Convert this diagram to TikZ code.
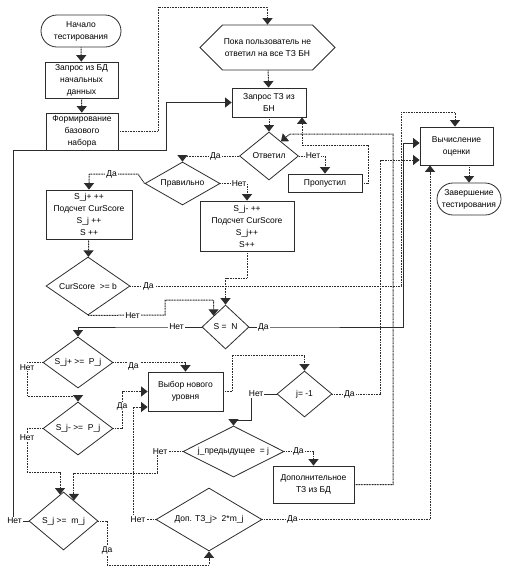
\documentclass[tikz,border=0pt]{standalone}
\usepackage{fontspec}
\setmainfont{Liberation Sans}
\usetikzlibrary{shapes.geometric,shapes.misc,shapes.symbols,arrows.meta,calc}
\definecolor{lnc}{HTML}{2C2C2C}
\begin{document}
\begin{tikzpicture}[x=1pt,y=-1pt,>={Triangle[width=10pt,length=6.5pt]},
		font=\fontsize{8.5}{12}\selectfont,
		block/.style={rectangle,draw=lnc,line width=0.8pt,align=center,inner sep=1pt},
		term/.style={rounded rectangle,draw=lnc,line width=0.8pt,align=center,inner sep=1pt},
		decision/.style={diamond,draw=lnc,line width=0.8pt,aspect=1.6,inner sep=0pt,align=center},
		cyclebox/.style={signal,signal to=west and east,signal pointer angle=90,draw=lnc,line width=0.8pt,align=center,inner sep=1pt},
		link/.style={draw=lnc,line width=1pt,dash pattern=on 1pt off 0.6pt},
		slink/.style={draw=lnc,line width=0.7pt},
		lbl/.style={fill=white,inner sep=1pt}]
			\useasboundingbox (0,0) rectangle (510,571);
			%Start and the initial data
			\node[term,minimum width=82pt,minimum height=32pt] (start) at (81,31) {Начало\\тестирования};
			\node[block,minimum width=73pt,minimum height=36pt] (zbd) at (81.5,80) {Запрос из БД\\начальных\\данных};
			\node[block,minimum width=72pt,minimum height=37pt] (form) at (82,131.5) {Формирование\\базового\\набора};
			%Main loop
			\node[cyclebox,minimum width=135pt,minimum height=45pt] (hex) at (267.5,47.5) {Пока пользователь не\\ответил на все ТЗ БН};
			\node[block,minimum width=74pt,minimum height=29pt] (zapr) at (269,102.5) {Запрос ТЗ из\\БН};
			\node[decision,minimum width=59pt,minimum height=48pt] (otv) at (269,156) {Ответил};
			\node[block,minimum width=74pt,minimum height=18pt] (prop) at (325,183) {Пропустил};
			\node[decision,minimum width=75pt,minimum height=43pt] (prav) at (182.5,183.5) {Правильно};
			%Counters
			\node[block,minimum width=86pt,minimum height=49pt] (plus) at (89,214.5) {S\_j+ ++\\Подсчет CurScore\\S\_j ++\\S ++};
			\node[block,minimum width=94pt,minimum height=50pt] (minus) at (247,226) {S\_j- ++\\Подсчет CurScore\\S\_j++\\S++};
			\node[decision,minimum width=84pt,minimum height=58pt] (cur) at (88,286) {CurScore\ \ >= b};
			\node[decision,minimum width=47pt,minimum height=44pt] (sn) at (225.5,327) {S =\ \ N};
			%Choice of the level
			\node[decision,minimum width=70pt,minimum height=51pt] (sjp) at (78,362.5) {S\_j+ >=\ \ P\_j};
			\node[decision,minimum width=70pt,minimum height=53pt] (sjm) at (78,428.5) {S\_j- >=\ \ P\_j};
			\node[block,minimum width=75pt,minimum height=39pt] (vyb) at (185.5,391.5) {Выбор нового\\уровня};
			\node[decision,minimum width=55pt,minimum height=46pt] (jm1) at (304.5,394) {j= -1};
			\node[decision,aspect=2,minimum width=101pt,minimum height=51pt] (jpr) at (233.5,451.5) {j\_предыдущее\ \ = j};
			\node[block,minimum width=81pt,minimum height=37pt] (dop) at (313.5,484.5) {Дополнительное\\ТЗ из БД};
			\node[decision,minimum width=69pt,minimum height=58pt] (smj) at (63.5,521) {S\_j >=\ \ m\_j};
			\node[decision,minimum width=106pt,minimum height=63pt] (dtz) at (209,519.5) {Доп. ТЗ\_j>\ \ 2*m\_j};
			%End
			\node[block,minimum width=73pt,minimum height=38pt] (vych) at (456.5,146) {Вычисление\\оценки};
			\node[term,minimum width=66pt,minimum height=32pt] (end) at (469,199) {Завершение\\тестирования};
			%Arrows of the main loop
			\draw[link,->] (start) -- (zbd);
			\draw[link,->] (zbd) -- (form);
			\draw[link,->] (form.east) -| (158,7) -| (hex.north);
			\draw[link,->] (hex) -- (zapr);
			\draw[link,->] (zapr) -- (otv);
			\draw[link,->] (otv.west) -| node[lbl,pos=0.21]{Да} (prav.north);
			\draw[link,->] (otv.east) -| node[lbl,pos=0.27]{Нет} (prop.north);
			\draw[link,->] (prop.east) -| (368,145) -| ([xshift=33pt]zapr.south);
			\draw[link,->] (dop.east) -| (393,134) -- (290,134) -- ($(otv.north)!0.4!(otv.east)$);
			\draw[link,->] (prav.west) -- (138,174) -| node[lbl,pos=0.27]{Да} (plus.north);
			\draw[link,->] (prav.east) -| node[lbl,pos=0.35]{Нет} (minus.north);
			\draw[link,->] (plus) -- (cur);
			\draw[link,->] (minus.south) -- ++(0,27) -| (sn.north);
			%Exits to the mark
			\draw[link,->] (cur.east) -- node[lbl]{Да} ++(36,0) -| (401,112) -| ([xshift=-1.5pt]vych.north);
			\draw[link,->] (cur.south) -- node[lbl,xshift=6pt]{Нет} (165,315) -- (165,300) -| (sn.north west);
			\draw[slink,->] (sn.east) -- node[lbl]{Да} ++(28,0) -| ([xshift=-16pt,yshift=3pt]vych.west) -- ([yshift=3pt]vych.west);
			\draw[slink,->] (sn.west) -- node[lbl]{Нет} ++(-50,0) -| (sjp.north);
			\draw[link,->] (jm1.east) -- node[lbl]{Да} ++(34,0) -| ([xshift=-39pt,yshift=-14pt]vych.west) -- ([yshift=-14pt]vych.west);
			\draw[link,->] (dtz.east) -- node[lbl]{Да} ++(60,0) -| ([xshift=-26.5pt]vych.south);
			\draw[link,->] (end.north |- vych.south) -- (end.north);
			%Arrows of the level choice
			\draw[link,->] (sjp.east) -- node[lbl,yshift=-4pt]{Да} ++(40,0) -| (vyb.north);
			\draw[link,->] (sjp.west) -| node[lbl,pos=0.57]{Нет} (27,396) -| (sjm.north);
			\draw[link,->] (sjm.east) -| node[lbl,pos=0.8]{Да} (122,391.5) -- (vyb.west);
			\draw[link,->] (sjm.west) -| node[lbl,pos=0.61]{Нет} (27,472) -| ($(smj.north)!0.1!(smj.west)$);
			\draw[link,->] (dtz.west) -| node[lbl,pos=0.39]{Нет} (133,407) -- ([yshift=-15.5pt]vyb.west);
			\draw[link,->] (vyb.east) -- ++(9,0) -- ++(0,-36.5) -| (jm1.north);
			\draw[slink,->] (jm1.west) -| node[lbl,pos=0.4]{Нет} (251,420) -| (jpr.north);
			\draw[link,->] (jpr.east) -| node[lbl,pos=0.24]{Да} (dop.north);
			\draw[link,->] (jpr.west) -| node[lbl,pos=0.44]{Нет} (157,473) -| ($(smj.north)!0.3!(smj.east)$);
			\draw[slink,->] (smj.west) -| node[lbl,pos=0.45]{Нет} (13,150) -| (166,102.5) -- (zapr.west);
			\draw[link,->] (smj.east) -| node[lbl,pos=0.83]{Да} (107,565) -| (dtz.south);
\end{tikzpicture}
\end{document}
